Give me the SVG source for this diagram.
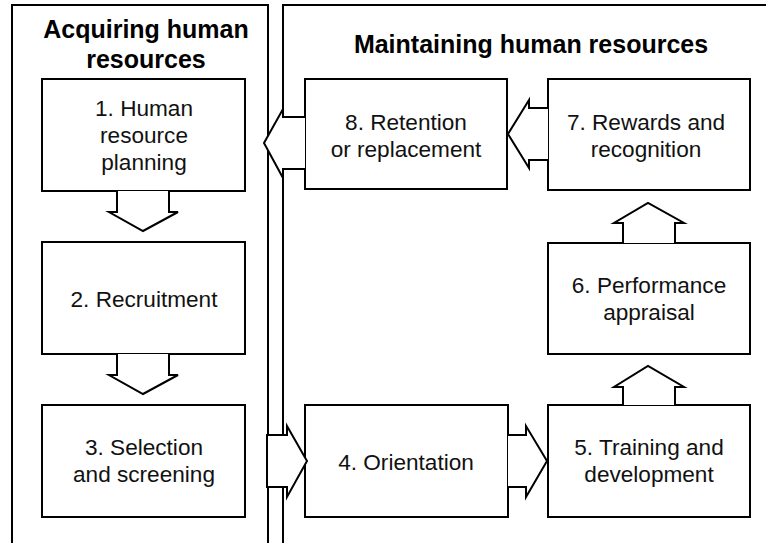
<svg xmlns="http://www.w3.org/2000/svg" width="766" height="543" viewBox="0 0 766 543">
<style>
.panel{fill:none;stroke:#000;stroke-width:2}
.box{fill:#fff;stroke:#000;stroke-width:2}
.arr{fill:#fff;stroke:#000;stroke-width:2;stroke-linejoin:miter}
.title{font-family:"Liberation Sans",Arial,sans-serif;font-weight:bold;font-size:25px;fill:#000;text-anchor:middle}
.lbl{font-family:"Liberation Sans",Arial,sans-serif;font-size:22.6px;fill:#111;text-anchor:middle}
</style>
<rect width="766" height="543" fill="#fff"/>
<g id="panel-acquiring">
<rect class="panel" x="12" y="5" width="256" height="600"/>
<text class="title" x="146" y="38">Acquiring human</text>
<text class="title" x="146" y="68">resources</text>
</g>
<g id="panel-maintaining">
<rect class="panel" x="283" y="5" width="600" height="600"/>
<text class="title" x="531" y="53">Maintaining human resources</text>
</g>
<g id="node1">
<rect class="box" x="42" y="79" width="203" height="112"/>
<text class="lbl" x="144" y="116">1. Human</text>
<text class="lbl" x="144" y="143">resource</text>
<text class="lbl" x="144" y="170">planning</text>
</g>
<g id="node2">
<rect class="box" x="42" y="242" width="203" height="112"/>
<text class="lbl" x="144" y="307">2. Recruitment</text>
</g>
<g id="node3">
<rect class="box" x="42" y="405" width="203" height="112"/>
<text class="lbl" x="144" y="455">3. Selection</text>
<text class="lbl" x="144" y="482">and screening</text>
</g>
<g id="node4">
<rect class="box" x="305" y="405" width="203" height="112"/>
<text class="lbl" x="406" y="470">4. Orientation</text>
</g>
<g id="node5">
<rect class="box" x="548" y="405" width="202" height="112"/>
<text class="lbl" x="649" y="455">5. Training and</text>
<text class="lbl" x="649" y="482">development</text>
</g>
<g id="node6">
<rect class="box" x="548" y="243" width="202" height="111"/>
<text class="lbl" x="649" y="293">6. Performance</text>
<text class="lbl" x="649" y="320">appraisal</text>
</g>
<g id="node7">
<rect class="box" x="548" y="79" width="202" height="111"/>
<text class="lbl" x="646" y="130">7. Rewards and</text>
<text class="lbl" x="646" y="157">recognition</text>
</g>
<g id="node8">
<rect class="box" x="305" y="79" width="202" height="110"/>
<text class="lbl" x="406" y="130">8. Retention</text>
<text class="lbl" x="406" y="157">or replacement</text>
</g>
<g id="connectors">
<path class="arr" d="M117,191 L117,212 L109,212 L143,231 L178,212 L169,212 L169,191"/>
<path class="arr" d="M117,354 L117,375 L109,375 L143,394 L178,375 L169,375 L169,354"/>
<path class="arr" d="M267,435 L287,435 L287,426 L307,461 L287,497 L287,487 L267,487 Z"/>
<path class="arr" d="M508,435 L526,435 L526,426 L547,461 L526,497 L526,487 L508,487"/>
<path class="arr" d="M623,405 L623,387 L614,387 L648,366 L684,387 L675,387 L675,405"/>
<path class="arr" d="M623,243 L623,223 L614,223 L648,203 L684,223 L675,223 L675,243"/>
<path class="arr" d="M548,108 L529,108 L529,100 L508,134 L529,168 L529,160 L548,160"/>
<path class="arr" d="M305,117 L283,117 L283,109 L264,143 L283,178 L283,169 L305,169"/>
</g>
</svg>
